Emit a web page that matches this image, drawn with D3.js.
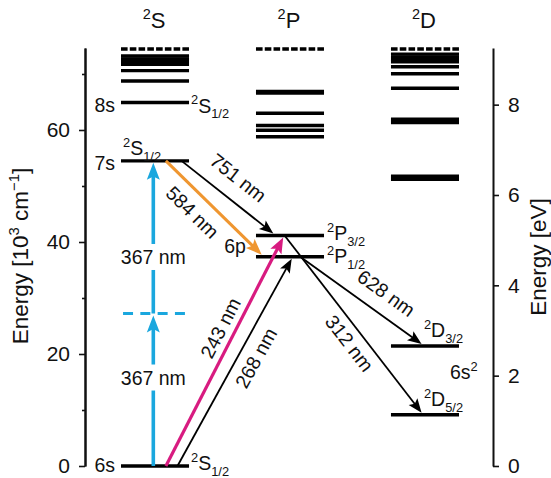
<!DOCTYPE html>
<html>
<head>
<meta charset="utf-8">
<script src="https://cdn.jsdelivr.net/npm/d3@7"></script>
<style>
  body { margin: 0; background: #fff; }
  svg { display: block; font-family: "Liberation Sans", Arial, Helvetica, sans-serif; }
</style>
</head>
<body>
<div id="chart"></div>
<script>
// term columns and level energies (10^3 cm^-1)
const columns = ["S", "P", "D"];
const columnTitles = ["^{2}S", "^{2}P", "^{2}D"];
const sLevels = [0, 54.49, 64.9, 68.75, 70.6, 71.75, 72.25, 72.7, 73.2];
const pLevels = [37.36, 41.17, 58.8, 59.96, 60.8, 62.98, 66.58, 66.88];
const dLevels = [9.16, 21.44, 51.21, 51.75, 61.33, 61.92, 67.45, 70.05, 71.3, 72.18, 72.54, 73.04, 73.54];
const ionLimit = 74.45;
const virtualLevel = 27.24;

// transitions: label, from energy, to energy
const transitions = [
  { label: "751 nm", from: 54.49, to: 41.17 },
  { label: "584 nm", from: 54.49, to: 37.36 },
  { label: "243 nm", from: 0, to: 41.17 },
  { label: "268 nm", from: 0, to: 37.36 },
  { label: "628 nm", from: 37.36, to: 21.44 },
  { label: "312 nm", from: 41.17, to: 9.16 }
];
const twoPhoton = { label: "367 nm", steps: [[0, 27.24], [27.24, 54.49]] };

const leftTicks = [0, 20, 40, 60];
const leftMinor = [10, 30, 50, 70];
const rightTicks = [0, 2, 4, 6, 8];
const cmPerEv = 8.06554;

const width = 551, height = 478;
const fs = 19.5;      // transition labels
const fsLevel = 19.5; // level labels
const fsTick = 21;
const fsAxis = 22.5;

const svg = d3.select("#chart").append("svg")
  .attr("width", width)
  .attr("height", height);

const y = d3.scaleLinear().domain([0, 74.64]).range([466, 48]);
const yEv = d3.scaleLinear().domain([0, 74.64 / cmPerEv]).range([466, 48]);
const x = d3.scaleBand().domain(columns).range([121, 459]).paddingInner(0.496);
const xAt = (col, f) => x(col) + f * x.bandwidth();

// rich text: ^{..} superscript, _{..} subscript
function rich(text, str, size) {
  const re = /([\^_])\{([^}]*)\}|([^\^_]+)/g;
  let m, shift = 0;
  while ((m = re.exec(str))) {
    let t = m[3], s = size, target = 0;
    if (m[1]) {
      t = m[2];
      s = size * 0.66;
      target = m[1] === "^" ? -size * 0.42 : size * 0.3;
    }
    text.append("tspan").attr("font-size", s).attr("dy", target - shift).text(t);
    shift = target;
  }
  return text;
}

function label(str, px, py, anchor, size) {
  const t = svg.append("text")
    .attr("x", px).attr("y", py)
    .attr("text-anchor", anchor || "start")
    .attr("font-size", size || fsLevel)
    .attr("fill", "#111");
  return rich(t, str, size || fsLevel);
}

// axes
svg.append("g")
  .attr("transform", "translate(85,0)")
  .call(d3.axisLeft(y).tickValues(leftTicks).tickSize(6).tickSizeOuter(0).tickPadding(9));
svg.append("g")
  .attr("transform", "translate(85,0)")
  .call(d3.axisLeft(y).tickValues(leftMinor).tickSize(3).tickSizeOuter(0).tickFormat(""));
svg.append("g")
  .attr("transform", "translate(493,0)")
  .call(d3.axisRight(yEv).tickValues(rightTicks).tickSize(6).tickSizeOuter(0).tickPadding(9));

svg.selectAll(".domain").attr("stroke", "#111").attr("stroke-width", 2);
svg.selectAll(".tick line").attr("stroke", "#111").attr("stroke-width", 1.6);
svg.selectAll(".tick text").attr("font-size", fsTick).attr("fill", "#111")
  .attr("font-family", "'Liberation Sans', Arial, sans-serif");

const yl = svg.append("text")
  .attr("transform", "translate(28,256) rotate(-90)")
  .attr("text-anchor", "middle").attr("font-size", fsAxis).attr("fill", "#111");
rich(yl, "Energy [10^{3} cm^{\u22121}]", fsAxis);

svg.append("text")
  .attr("transform", "translate(546,257) rotate(-90)")
  .attr("text-anchor", "middle").attr("font-size", fsAxis).attr("fill", "#111")
  .text("Energy [eV]");

// column titles
columns.forEach((c, i) => {
  label(columnTitles[i], x(c) + x.bandwidth() / 2 - 1, 28, "middle", 22);
});

// energy levels
const levelSets = [sLevels, pLevels, dLevels];
columns.forEach((c, i) => {
  svg.append("g").selectAll("line")
    .data(levelSets[i])
    .join("line")
    .attr("x1", x(c)).attr("x2", x(c) + x.bandwidth())
    .attr("y1", d => y(d)).attr("y2", d => y(d))
    .attr("stroke", "#000").attr("stroke-width", 3.4);
  svg.append("line")
    .attr("x1", x(c)).attr("x2", x(c) + x.bandwidth())
    .attr("y1", y(ionLimit)).attr("y2", y(ionLimit))
    .attr("stroke", "#000").attr("stroke-width", 3.4)
    .attr("stroke-dasharray", "6.6,2.17");
});

// arrows
function arrow(x1, y1, x2, y2, color, w, hl, hw) {
  const dx = x2 - x1, dy = y2 - y1, len = Math.hypot(dx, dy);
  const ux = dx / len, uy = dy / len;
  const bx = x2 - ux * hl, by = y2 - uy * hl;
  svg.append("line")
    .attr("x1", x1).attr("y1", y1)
    .attr("x2", x2 - ux * hl * 0.7).attr("y2", y2 - uy * hl * 0.7)
    .attr("stroke", color).attr("stroke-width", w);
  svg.append("path")
    .attr("d", `M${x2},${y2}L${bx - uy * hw / 2},${by + ux * hw / 2}L${bx + ux * hl * 0.2},${by + uy * hl * 0.2}L${bx + uy * hw / 2},${by - ux * hw / 2}Z`)
    .attr("fill", color);
  return { x1, y1, x2, y2, ux, uy, len };
}

const blue = "#1aa7de", magenta = "#d81b80", orange = "#ef9630";

// two-photon virtual level
svg.append("line")
  .attr("x1", xAt("S", 0.03)).attr("x2", xAt("S", 0.94))
  .attr("y1", y(virtualLevel)).attr("y2", y(virtualLevel))
  .attr("stroke", blue).attr("stroke-width", 3)
  .attr("stroke-dasharray", "10,7.3");

const bx = xAt("S", 0.475);
const labelFrac = [0.58, 0.37];
twoPhoton.steps.forEach((s, i) => {
  arrow(bx, y(s[0]), bx, y(s[1]) + 2, blue, 3.6, 17, 13);
  const ly = y(s[0] + (s[1] - s[0]) * labelFrac[i]);
  const t = svg.append("text").attr("x", bx).attr("y", ly)
    .attr("text-anchor", "middle").attr("dominant-baseline", "central")
    .attr("font-size", fs).attr("fill", "#111").text(twoPhoton.label);
  const bb = t.node().getBBox();
  svg.insert("rect", () => t.node())
    .attr("x", bb.x - 2).attr("y", ly - 13).attr("width", bb.width + 4).attr("height", 26)
    .attr("fill", "#fff");
});

// arrow layout: start column/fraction, end column/fraction, style, label t / offset
const layout = {
  "751 nm": { c1: ["S", 0.89], c2: ["P", 0.255], color: "#000", w: 1.8, hl: 14, hw: 11, t: 0.47, d: 22 },
  "584 nm": { c1: ["S", 0.66], c2: ["P", 0.084], color: orange, w: 3, hl: 16, hw: 12.5, t: 0.41, d: -18 },
  "243 nm": { c1: ["S", 0.66], c2: ["P", 0.40], color: magenta, w: 3.2, hl: 16, hw: 12.5, t: 0.575, d: 14.5 },
  "268 nm": { c1: ["S", 0.83], c2: ["P", 0.525], color: "#000", w: 1.8, hl: 14, hw: 11, t: 0.56, d: -16.5 },
  "628 nm": { c1: ["P", 0.65], c2: ["D", 0.45], color: "#000", w: 1.8, hl: 14, hw: 11, t: 0.61, d: 20.7 },
  "312 nm": { c1: ["P", 0.42], c2: ["D", 0.45], color: "#000", w: 1.8, hl: 14, hw: 11, t: 0.558, d: -14.5 }
};

transitions.forEach(tr => {
  const L = layout[tr.label];
  const y1 = y(tr.from);
  const dir = tr.to > tr.from ? 1 : -1;
  const y2 = y(tr.to) + 2 * dir;
  const a = arrow(xAt(...L.c1), y1, xAt(...L.c2), y2, L.color, L.w, L.hl, L.hw);
  const px = a.x1 + a.ux * a.len * L.t + a.uy * L.d;
  const py = a.y1 + a.uy * a.len * L.t - a.ux * L.d;
  const ang = Math.atan2(a.uy, a.ux) * 180 / Math.PI;
  svg.append("text")
    .attr("transform", `translate(${px},${py}) rotate(${ang})`)
    .attr("text-anchor", "middle").attr("dominant-baseline", "central")
    .attr("font-size", fs).attr("fill", "#111").text(tr.label);
});

// level labels
label("8s", x("S") - 6, y(sLevels[2]) + 9, "end");
label("7s", x("S") - 6, y(sLevels[1]) + 9, "end");
label("6s", x("S") - 6, y(sLevels[0]) + 6, "end");
label("^{2}S_{1/2}", x("S") + x.bandwidth() + 2, y(sLevels[2]) + 10);
label("^{2}S_{1/2}", x("S") + 2, y(sLevels[1]) - 6);
label("^{2}S_{1/2}", x("S") + x.bandwidth() + 2, y(sLevels[0]) + 4);
label("6p", x("P") - 10, y(pLevels[0]) - 4, "end");
label("^{2}P_{3/2}", x("P") + x.bandwidth() + 3, y(pLevels[1]) + 5);
label("^{2}P_{1/2}", x("P") + x.bandwidth() + 3, y(pLevels[0]) + 6);
label("^{2}D_{3/2}", x("D") + 33, y(dLevels[1]) - 9);
label("^{2}D_{5/2}", x("D") + 33, y(dLevels[0]) - 9);
label("6s^{2}", x("D") + 59, y(dLevels[1]) + 33);
</script>
</body>
</html>
